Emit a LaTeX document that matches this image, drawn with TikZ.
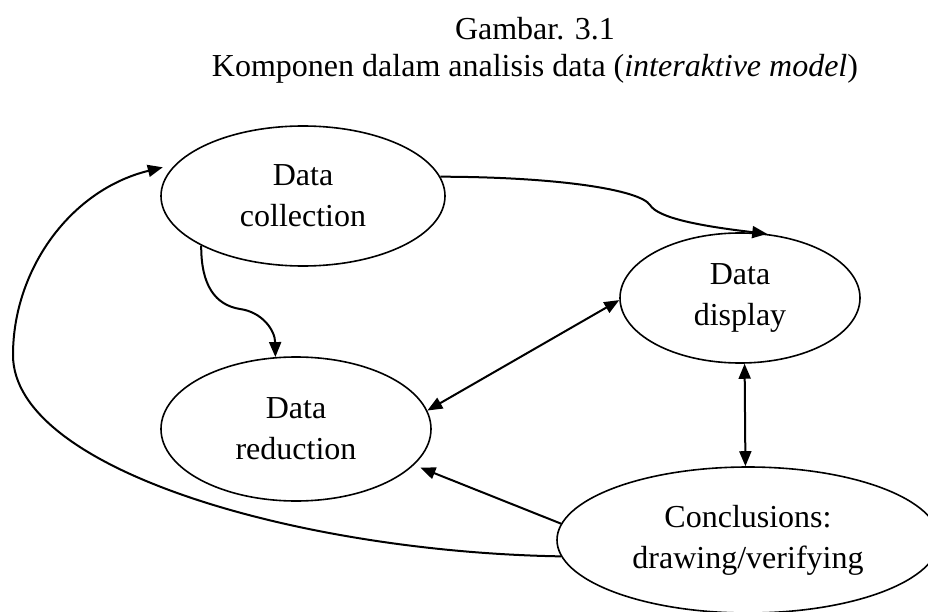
\documentclass[tikz,border=0pt]{standalone}
\usepackage{fontspec}
\setmainfont{Liberation Serif}
\usetikzlibrary{shapes.geometric,arrows.meta}

\begin{document}
\begin{tikzpicture}[x=1pt,y=-1pt,>={Triangle[length=15pt,width=12pt]},line width=2pt,
  elips/.style={draw,ellipse,fill=white,line width=1.6pt,inner sep=0pt,align=center,font=\fontsize{32}{41}\selectfont}]
\useasboundingbox (0,0) rectangle (928,612);
\node[align=center,font=\fontsize{32}{37}\selectfont](title) at (535,50) {Gambar. 3.1\\Komponen dalam analisis data (\textit{interaktive model})};

\node[elips,minimum width=284pt,minimum height=140pt](col) at (303,196) {Data\\collection};
\node[elips,minimum width=270pt,minimum height=144pt](red) at (296,429) {Data\\reduction};
\node[elips,minimum width=240pt,minimum height=130pt](dis) at (740,298) {Data\\display};
\node[elips,minimum width=382pt,minimum height=146pt](con) at (748,540) {Conclusions:\\drawing/verifying};

\coordinate (w1) at (650,205);
\coordinate (w2) at (240,309);
\coordinate (w3) at (13,355);

\draw[->](col.8) .. controls (560,177) and (640,190) .. (w1) .. controls (658,218) and (700,226) .. (dis.67);
\draw[->](col.206) .. controls (201,285) and (215,305) .. (w2) .. controls (262,312) and (275,330) .. (red.106);
\draw[<->](red.8) -- (dis.181);
\draw[<->](dis.-86) -- (con.92);
\draw[->,shorten >=7pt](con.175) -- (red.-17);
\draw[->,shorten >=13pt](con.185) .. controls (300,552) and (13,470) .. (w3) .. controls (13,270) and (70,190) .. (col.166);
\end{tikzpicture}
\end{document}
